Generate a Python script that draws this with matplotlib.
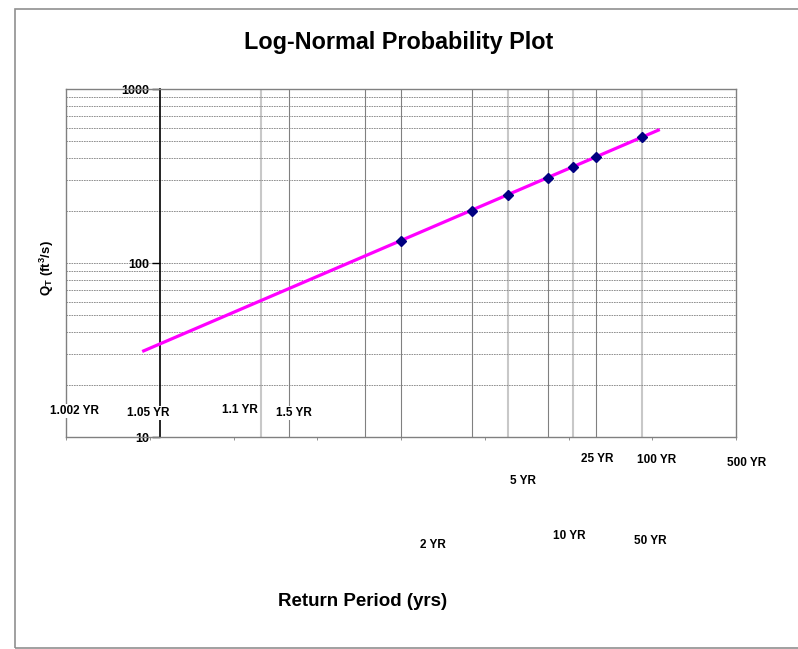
import matplotlib
matplotlib.use("Agg")
import matplotlib.pyplot as plt
from matplotlib.patches import Rectangle
from matplotlib.lines import Line2D

plt.rcParams['font.family'] = ['Liberation Sans', 'DejaVu Sans']
plt.rcParams['mathtext.fontset'] = 'custom'
plt.rcParams['mathtext.rm'] = 'Liberation Sans'
plt.rcParams['mathtext.bf'] = 'Liberation Sans:bold'

# return periods and their standard normal variates (x axis is z)
periods = ['1.002 YR', '1.05 YR', '1.1 YR', '1.5 YR', '2 YR', '5 YR',
           '10 YR', '25 YR', '50 YR', '100 YR', '500 YR']
period_z = [-2.878, -1.668, -1.335, -0.431, 0.0, 0.842,
            1.282, 1.751, 2.054, 2.326, 2.878]

# plotted points (z, discharge)
point_z = [0.0, 0.842, 1.282, 1.751, 2.054, 2.326, 2.878]
point_q = [134, 200, 246, 307, 355, 406, 528]

# fitted log-normal line
fit_z = [-3.09, 3.09]
fit_q = [31, 585]

# label positions in figure pixels (Excel dragged labels)
label_px = [(75, 411), (148, 413), (240, 410), (294, 413), (433, 545),
            (523, 481), (569, 536), (597, 459), (650, 541), (657, 460),
            (747, 463)]

W, H = 798, 649
fig = plt.figure(figsize=(W / 100, H / 100), dpi=100)
ax = fig.add_axes([66 / W, 1 - 437 / H, 670 / W, 348 / H])

ax.set_yscale('log')
ax.set_xlim(-4, 4)
ax.set_ylim(10, 1000)

# horizontal grid
ax.grid(which='both', axis='y', color='#808080', linestyle=(0, (2, 1)), linewidth=0.6)

# vertical grid lines at return periods
light = {'1.05 YR', '10 YR', '50 YR', '500 YR'}
for name, z in zip(periods, period_z):
    if name == '1.002 YR':
        continue
    if name in light:
        ax.axvline(z, color='#c8c8c8', linewidth=1.5, zorder=1)
    else:
        ax.axvline(z, color='#808080', linewidth=0.8, zorder=1)

ax.plot(fit_z, fit_q, color='#ff00ff', linewidth=2.3, zorder=3, solid_capstyle='butt')
ax.plot(point_z, point_q, linestyle='none', marker='D', markersize=5.5,
        color='#000080', zorder=4)

# y axis crosses at the first return period
ax.spines['left'].set_position(('data', period_z[0]))
ax.spines['left'].set_color('black')
ax.spines['left'].set_linewidth(1.2)
for s in ['top', 'right', 'bottom']:
    ax.spines[s].set_color('#808080')
    ax.spines[s].set_linewidth(1.0)
ax.add_line(Line2D([0, 0], [0, 1], transform=ax.transAxes, color='#808080',
                   linewidth=1.0, clip_on=False))

ax.set_yticks([10, 100, 1000])
ax.set_yticklabels(['10', '100', '1000'], fontsize=9, fontweight='bold')
ax.yaxis.set_minor_formatter(plt.NullFormatter())
ax.tick_params(axis='y', which='major', direction='out', length=6, width=1, pad=2)
ax.tick_params(axis='y', which='minor', length=0)

ax.set_xticks(range(-4, 5))
ax.set_xticklabels([])
ax.tick_params(axis='x', direction='out', length=2, width=0.6, color='#808080')

for name, (px, py) in zip(periods, label_px):
    fig.text(px / W, 1 - py / H, name, ha='center', va='center', fontsize=8.5,
             fontweight='bold', zorder=5,
             bbox=dict(facecolor='white', edgecolor='none', pad=1))

fig.text(399 / W, 1 - 42 / H, 'Log-Normal Probability Plot', ha='center',
         va='center', fontsize=16.8, fontweight='bold')
fig.text(363 / W, 1 - 601 / H, 'Return Period (yrs)', ha='center',
         va='center', fontsize=13.5, fontweight='bold')
fig.text(47 / W, 1 - 268 / H, r'Q$_\mathbf{T}$ (ft$^\mathbf{3}$/s)', ha='center',
         va='center', rotation=90, fontsize=9.5, fontweight='bold')

# chart area border
fig.add_artist(Rectangle((15 / W, 1 - 648 / H), 1.0, (648 - 9) / H,
                         transform=fig.transFigure, fill=False,
                         edgecolor='#909090', linewidth=1.2, clip_on=False))

fig.savefig('out.png', dpi=100)
